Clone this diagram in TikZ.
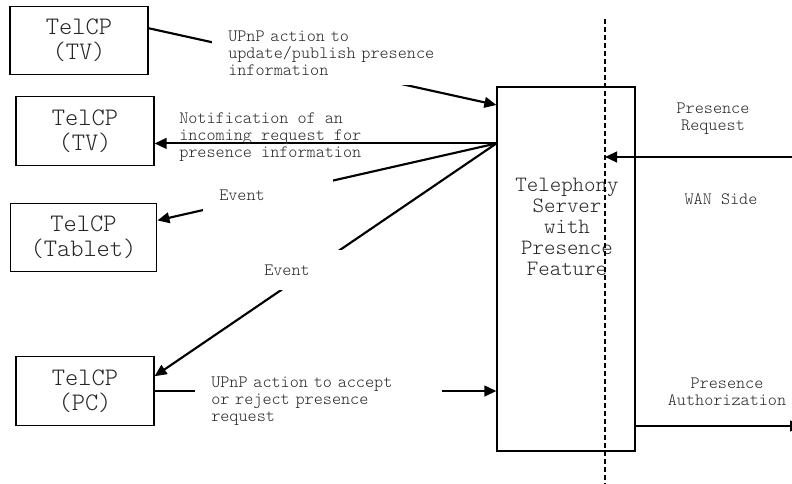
\documentclass[tikz,border=0pt]{standalone}
\usepackage{fontspec}
\usetikzlibrary{arrows.meta}
\newcommand\courfont{\ttfamily\fontseries{l}}

\begin{document}
\begin{tikzpicture}[x=0.75pt,y=-0.75pt,
	cpbox/.style={draw,line width=0.9pt,minimum width=103.5pt,minimum height=51.5pt,inner sep=0pt,align=center,text=black!85,font=\courfont\fontsize{18.9}{18.75}\selectfont},
	note/.style={inner sep=0pt,align=left,text=black!85,font=\courfont\fontsize{13}{12.75}\selectfont},
	gapbox/.style={note,fill=white,inner xsep=12pt,anchor=west,text width=#1},
	link/.style={line width=1.6pt,-{Triangle[length=9pt,width=8pt]}}]
	\useasboundingbox (0,0) rectangle (792,483);
	% the control points and the server
	\node[cpbox] (tv1) at (79,40.5) {TelCP\\(TV)};
	\node[cpbox] (tv2) at (85,131) {TelCP\\(TV)};
	\node[cpbox,minimum width=110pt] (tab) at (83.5,237.5) {TelCP\\(Tablet)};
	\node[cpbox] (pc) at (85,391) {TelCP\\(PC)};
	\node[draw,line width=0.9pt,minimum width=103.5pt,minimum height=273pt] (srv) at (566,269) {};
	\node[font=\courfont\fontsize{16.4}{15.75}\selectfont,text=black!85,align=center,inner sep=0pt] (srvtxt) at (567,227) {Telephony\\Server\\with\\Presence\\Feature};
	% LAN / WAN border
	\coordinate (wtop) at (605,19);
	\coordinate (wbot) at (605,490);
	\draw[line width=1.5pt,dash pattern=on 3.75pt off 2.25pt] (wtop) -- (wbot);
	% connectors
	\coordinate (hub) at (srv.119.7);
	\draw[link] (tv1.10) -- (srv.113.5);
	\draw[link] (hub) -- (hub -| tv2.east);
	\draw[link] (hub) -- (tab.13);
	\draw[link] (hub) -- (pc.12);
	\draw[link] (pc.east) -- (pc.east -| srv.west);
	\coordinate (req) at (800,157);
	\draw[link] (req) -- (req -| wtop);
	\coordinate (auth) at (802,426);
	\draw[link] (auth -| srv.east) -- (auth);
	% labels
	\node[gapbox=165pt,minimum height=48pt] (upd) at (212,53) {UPnP action to\\update/publish presence\\information};
	\node[note,anchor=west] (notif) at (179,137) {Notification of an\\incoming request for\\presence information};
	\node[gapbox=73.5pt,minimum height=30pt] (ev1) at (203,195.5) {Event};
	\node[gapbox=47pt,minimum height=30pt] (ev2) at (248,270) {Event};
	\node[gapbox=161pt,minimum height=48pt] (acc) at (195,401) {UPnP action to accept\\or reject presence\\request};
	\node[note,align=center] (preq) at (713,119) {Presence\\Request};
	\node[note] (wan) at (721,199) {WAN Side};
	\node[note,align=center] (pauth) at (727,392) {Presence\\Authorization};
\end{tikzpicture}
\end{document}
